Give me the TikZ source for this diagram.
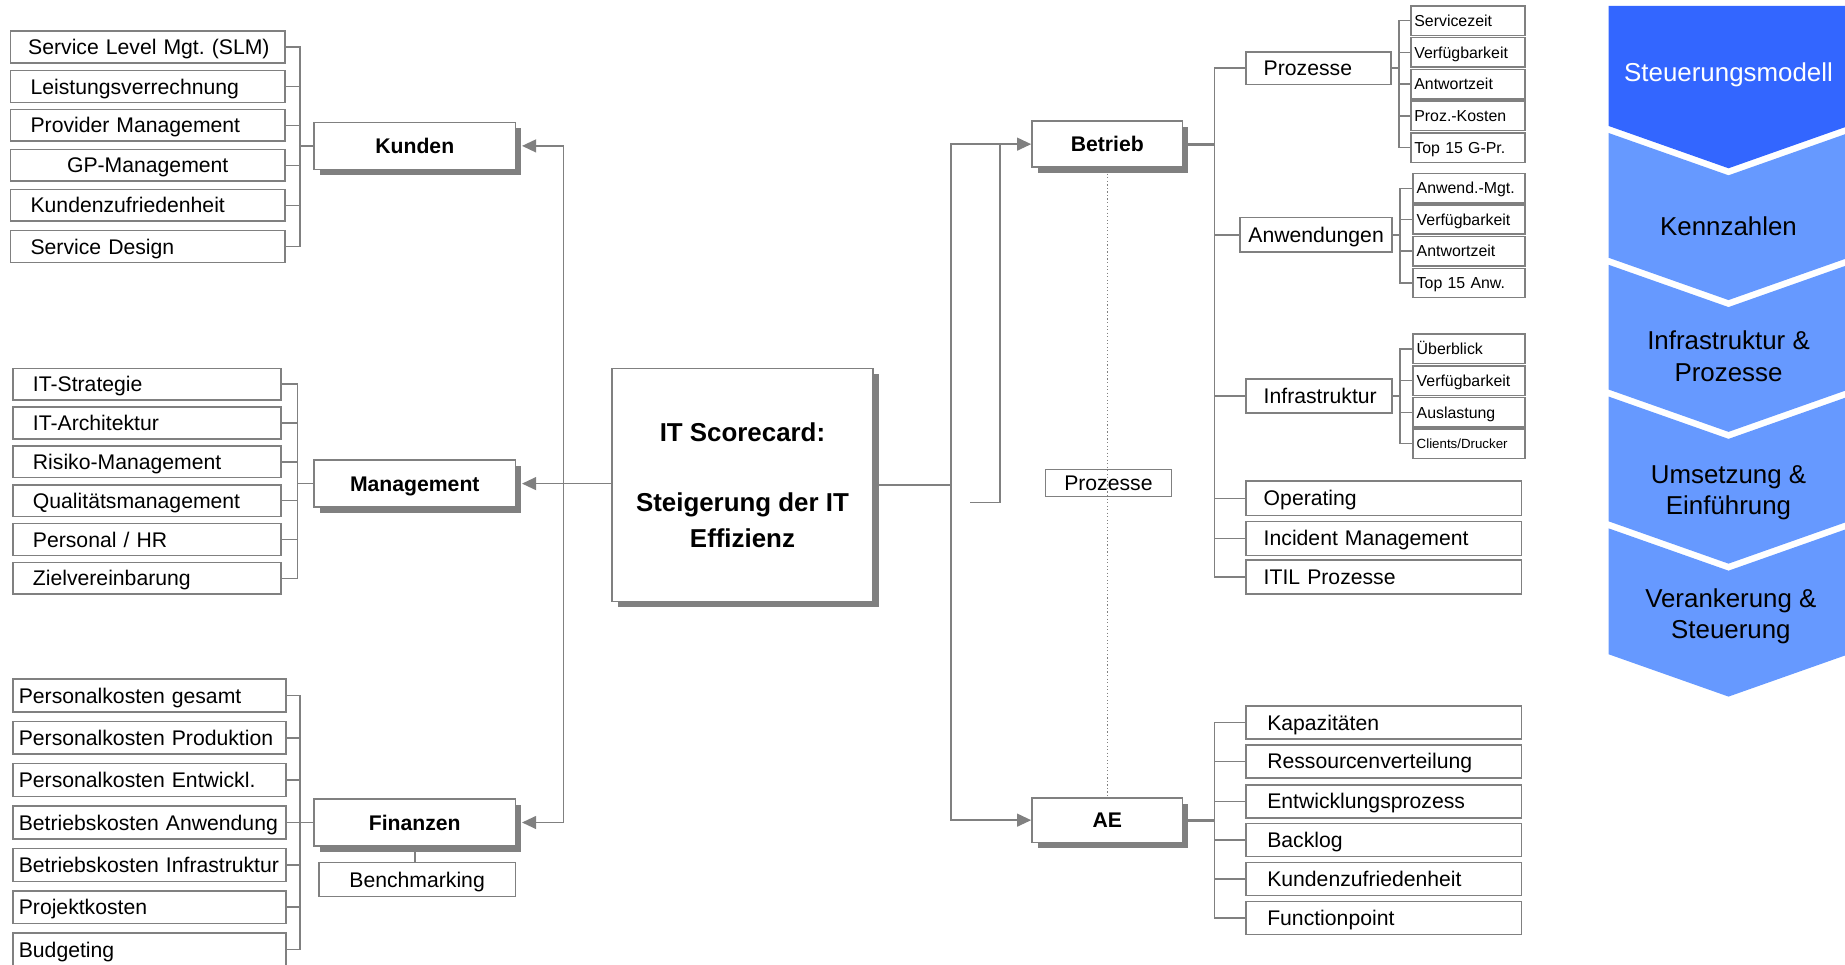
\documentclass[tikz,border=0pt]{standalone}
\usepackage{fontspec}
\setmainfont{Liberation Sans}
\usetikzlibrary{arrows.meta,shadows}
\pgfdeclarelayer{background}
\pgfsetlayers{background,main}
\frenchspacing

\definecolor{lineg}{RGB}{128,128,128}
\definecolor{shadowg}{RGB}{128,128,128}
\definecolor{stepdark}{RGB}{51,102,255}
\definecolor{steplight}{RGB}{102,153,255}

\newcommand\fitem{\fontsize{18}{21}\selectfont}
\newcommand\fsmall{\fontsize{13.5}{16}\selectfont}
\newcommand\ftiny{\fontsize{11.3}{13}\selectfont}
\newcommand\fhead{\fontsize{18}{21}\selectfont\bfseries}
\newcommand\fcore{\fontsize{22}{30}\selectfont\bfseries}
\newcommand\fstep{\fontsize{22}{27}\selectfont}

\begin{document}
\begin{tikzpicture}[x=1pt,y=-1pt,
  conn/.style={draw=lineg,line width=1.3pt,line cap=rect},
  heavy/.style={draw=lineg,line width=2.6pt},
  arrL/.style={draw=lineg,line width=1.3pt,-{Triangle[length=12pt,width=11pt]},shorten >=5pt},
  arrR/.style={draw=lineg,line width=1.3pt,-{Triangle[length=12pt,width=11pt]}},
  boxbase/.style={draw=lineg,line width=1.3pt,fill=white,inner ysep=0pt,inner xsep=4pt},
  item/.style={boxbase,font=\fitem,align=left,text height=12.9pt,text depth=0pt},
  kitem/.style={item,minimum width=233pt,text width=225pt,minimum height=27pt},
  mitem/.style={item,minimum width=228pt,text width=220pt,minimum height=27pt},
  fitem/.style={item,minimum width=232pt,text width=224pt,minimum height=28pt},
  ritem/.style={item,minimum width=234pt,text width=226pt,minimum height=29pt},
  aitem/.style={item,minimum width=234pt,text width=226pt,minimum height=28pt},
  subitem/.style={boxbase,inner xsep=3pt,font=\fsmall,align=left,text height=9.7pt,text depth=0pt,
    minimum width=95pt,text width=89pt,minimum height=25pt},
  shad/.style={drop shadow={shadow xshift=5pt,shadow yshift=-5pt,fill=shadowg,opacity=1}},
  head/.style={boxbase,shad,font=\fhead,align=center,text height=12.9pt,text depth=0pt,
    minimum width=171pt,minimum height=40pt},
  core/.style={boxbase,shad,font=\fcore,align=center,text depth=0pt,
    minimum width=222pt,minimum height=198pt},
  steptext/.style={font=\fstep,align=center,inner sep=0pt}
]
\useasboundingbox (0,0) rectangle (1568,820);

% ---------- central box ----------
\node[core] (core) at (631,412) {IT Scorecard:\\[30pt]Steigerung der IT\\Effizienz};

% ---------- Kunden ----------
\node[head] (kunden) at (352.5,124) {Kunden};
\node[kitem] (k1) at (125.5,40)   {\hspace*{11pt}Service Level Mgt. (SLM)};
\node[kitem] (k2) at (125.5,73.5) {\hspace*{13pt}Leistungsverrechnung};
\node[kitem] (k3) at (125.5,106.5){\hspace*{13pt}Provider Management};
\node[kitem] (k4) at (125.5,140.5){\hspace*{44pt}GP-Management};
\node[kitem] (k5) at (125.5,174.5){\hspace*{13pt}Kundenzufriedenheit};
\node[kitem] (k6) at (125.5,209.5){\hspace*{13pt}Service Design};

% ---------- Management ----------
\node[head] (mgmt) at (352.5,411) {Management};
\node[mitem] (m1) at (125,326.5) {\hspace*{13pt}IT-Strategie};
\node[mitem] (m2) at (125,359.5) {\hspace*{13pt}IT-Architektur};
\node[mitem] (m3) at (125,392.5) {\hspace*{13pt}Risiko-Management};
\node[mitem] (m4) at (125,425.5) {\hspace*{13pt}Qualitätsmanagement};
\node[mitem] (m5) at (125,458.5) {\hspace*{13pt}Personal / HR};
\node[mitem] (m6) at (125,491.5) {\hspace*{13pt}Zielvereinbarung};

% ---------- Finanzen ----------
\node[head] (fin) at (352.5,699) {Finanzen};
\node[item,align=center,minimum width=167pt,text width=159pt,minimum height=29pt] (bench) at (354.5,747.5) {Benchmarking};
\node[fitem] (f1) at (127,591) {\hspace*{1pt}Personalkosten gesamt};
\node[fitem] (f2) at (127,627) {\hspace*{1pt}Personalkosten Produktion};
\node[fitem] (f3) at (127,663) {\hspace*{1pt}Personalkosten Entwickl.};
\node[fitem] (f4) at (127,699) {\hspace*{1pt}Betriebskosten Anwendung};
\node[fitem] (f5) at (127,735) {\hspace*{1pt}Betriebskosten Infrastruktur};
\node[fitem] (f6) at (127,771) {\hspace*{1pt}Projektkosten};
\node[fitem] (f7) at (127,807) {\hspace*{1pt}Budgeting};

% ---------- Betrieb / AE ----------
\node[head,minimum width=128pt,minimum height=39pt] (betrieb) at (941,122.5) {Betrieb};
\node[head,minimum width=128pt,minimum height=38pt] (ae) at (941,697) {AE};
\node[draw=lineg,line width=1.3pt,font=\fitem,inner sep=0pt,text height=12.9pt,text depth=0pt,
      minimum width=107pt,minimum height=23pt] (mproz) at (942,410.5) {Prozesse};

\node[item,minimum width=123pt,text width=115pt,minimum height=28pt] (bproz) at (1120.5,58) {\hspace*{11pt}Prozesse};
\node[item,align=center,minimum width=129pt,text width=121pt,minimum height=29pt] (banw) at (1118.5,199.5) {Anwendungen};
\node[item,minimum width=124pt,text width=116pt,minimum height=29pt] (binf) at (1121,336.5) {\hspace*{11pt}Infrastruktur};
\node[ritem] (oper) at (1176,423.5) {\hspace*{11pt}Operating};
\node[ritem] (inc)  at (1176,457.5) {\hspace*{11pt}Incident Management};
\node[ritem] (itil) at (1176,490.5) {\hspace*{11pt}ITIL Prozesse};

\node[subitem,minimum width=97pt,text width=91pt] (p1) at (1247.5,17.5)  {Servicezeit};
\node[subitem,minimum width=97pt,text width=91pt] (p2) at (1247.5,44.5)  {Verfügbarkeit};
\node[subitem,minimum width=97pt,text width=91pt] (p3) at (1247.5,71.5)  {Antwortzeit};
\node[subitem,minimum width=97pt,text width=91pt] (p4) at (1247.5,98.5)  {Proz.-Kosten};
\node[subitem,minimum width=97pt,text width=91pt] (p5) at (1247.5,125.5) {Top 15 G-Pr.};

\node[subitem] (a1) at (1248.5,160)   {Anwend.-Mgt.};
\node[subitem] (a2) at (1248.5,186.5) {Verfügbarkeit};
\node[subitem] (a3) at (1248.5,213.5) {Antwortzeit};
\node[subitem] (a4) at (1248.5,240.5) {Top 15 Anw.};

\node[subitem] (i1) at (1248.5,296.5) {Überblick};
\node[subitem] (i2) at (1248.5,323.5) {Verfügbarkeit};
\node[subitem] (i3) at (1248.5,350.5) {Auslastung};
\node[subitem,font=\ftiny,text height=8.1pt] (i4) at (1248.5,377) {Clients/Drucker};

\node[aitem] (e1) at (1176,614) {\hspace*{14pt}Kapazitäten};
\node[aitem] (e2) at (1176,647) {\hspace*{14pt}Ressourcenverteilung};
\node[aitem] (e3) at (1176,681) {\hspace*{14pt}Entwicklungsprozess};
\node[aitem] (e4) at (1176,714) {\hspace*{14pt}Backlog};
\node[aitem] (e5) at (1176,747) {\hspace*{14pt}Kundenzufriedenheit};
\node[aitem] (e6) at (1176,780) {\hspace*{14pt}Functionpoint};

% ---------- connectors ----------
\coordinate (kbx) at (255,0);
\coordinate (mbx) at (253,0);
\coordinate (fbx) at (255,0);
\coordinate (lsp) at (479,0);
\coordinate (rsp) at (808,0);
\coordinate (isp) at (850,0);
\coordinate (ispend) at (825,427);
\coordinate (bsp) at (1032,0);
\coordinate (psx) at (1189,0);
\coordinate (asx) at (1190,0);

\begin{pgfonlayer}{background}
  % left brackets
  \foreach \n in {k1,k2,k3,k4,k5,k6} \draw[conn] (\n.east) -- (\n.east -| kbx);
  \draw[conn] (k1.east -| kbx) -- (k6.east -| kbx);
  \draw[conn] (kunden.west -| kbx) -- (kunden.west);
  \foreach \n in {m1,m2,m3,m4,m5,m6} \draw[conn] (\n.east) -- (\n.east -| mbx);
  \draw[conn] (m1.east -| mbx) -- (m6.east -| mbx);
  \draw[conn] (mgmt.west -| mbx) -- (mgmt.west);
  \foreach \n in {f1,f2,f3,f4,f5,f6,f7} \draw[conn] (\n.east) -- (\n.east -| fbx);
  \draw[conn] (f1.east -| fbx) -- (f7.east -| fbx);
  \draw[conn] (fin.west -| fbx) -- (fin.west);
  \draw[conn] (fin.south) -- (fin.south |- bench.north);

  % left spine from the central box
  \draw[conn] (kunden.east -| lsp) -- (fin.east -| lsp);
  \draw[arrL] (kunden.east -| lsp) -- (kunden.east);
  \draw[arrL] (core.west |- mgmt.east) -- (mgmt.east);
  \draw[arrL] (fin.east -| lsp) -- (fin.east);

  % right spine
  \draw[conn] (core.east) -- (core.east -| rsp);
  \draw[conn] (betrieb.west -| rsp) -- (ae.west -| rsp);
  \draw[arrR] (betrieb.west -| rsp) -- (betrieb.west);
  \draw[arrR] (ae.west -| rsp) -- (ae.west);
  \draw[conn] (betrieb.west -| isp) |- (ispend);

  % dotted link Betrieb - AE
  \draw[lineg,line width=1pt,dash pattern=on 1pt off 2pt] ([yshift=-5pt]betrieb.south) -- (ae.north);

  % Betrieb tree
  \draw[heavy] (betrieb.east) -- (betrieb.east -| bsp);
  \draw[conn] (bproz.west -| bsp) -- (itil.west -| bsp);
  \foreach \n in {bproz,banw,binf,oper,inc,itil} \draw[conn] (\n.west -| bsp) -- (\n.west);

  \draw[conn] (bproz.east) -- (bproz.east -| psx);
  \draw[conn] (p1.west -| psx) -- (p5.west -| psx);
  \foreach \n in {p1,p2,p3,p4,p5} \draw[conn] (\n.west -| psx) -- (\n.west);

  \draw[conn] (banw.east) -- (banw.east -| asx);
  \draw[conn] (a1.west -| asx) -- (a4.west -| asx);
  \foreach \n in {a1,a2,a3,a4} \draw[conn] (\n.west -| asx) -- (\n.west);

  \draw[conn] (binf.east) -- (binf.east -| asx);
  \draw[conn] (i1.west -| asx) -- (i4.west -| asx);
  \foreach \n in {i1,i2,i3,i4} \draw[conn] (\n.west -| asx) -- (\n.west);

  % AE tree
  \draw[heavy] (ae.east) -- (ae.east -| bsp);
  \draw[conn] (e1.west -| bsp) -- (e6.west -| bsp);
  \foreach \n in {e1,e2,e3,e4,e5,e6} \draw[conn] (\n.west -| bsp) -- (\n.west);
\end{pgfonlayer}

% ---------- phase chevrons ----------
\fill[stepdark] (1367,5) -- (1571,5) -- (1571,107) -- (1469,143) -- (1367,107) -- cycle;
\foreach \t/\b in {113/219,225/331,337/443,449/556}
  \fill[steplight] (1367,\t) -- (1469,\t+36) -- (1571,\t) -- (1571,\b) -- (1469,\b+36) -- (1367,\b) -- cycle;

\node[steptext,text=white,text height=15.8pt,text depth=0pt] (st1) at (1469,61) {Steuerungsmodell};
\node[steptext,text height=15.8pt,text depth=0pt] (st2) at (1469,192) {Kennzahlen};
\node[steptext,text depth=0pt] (st3) at (1469,302.5) {Infrastruktur \&\\Prozesse};
\node[steptext,text depth=0pt] (st4) at (1469,416.5) {Umsetzung \&\\Einführung};
\node[steptext,text depth=0pt] (st5) at (1471,521.5) {Verankerung \&\\Steuerung};
\end{tikzpicture}
\end{document}
